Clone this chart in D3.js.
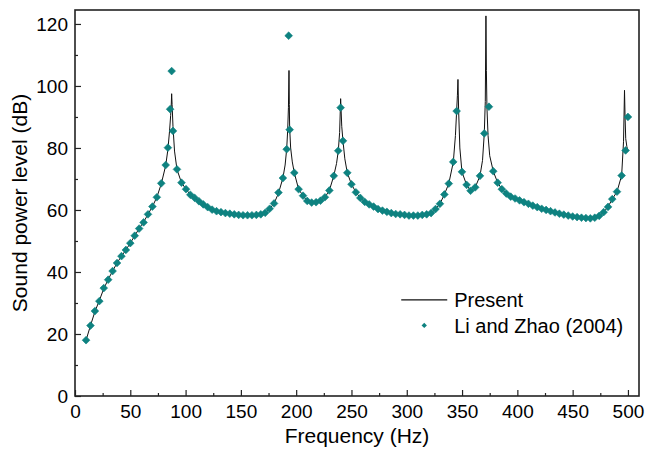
<!DOCTYPE html>
<html>
<head>
<meta charset="utf-8">
<script src="https://cdn.jsdelivr.net/npm/d3@7"></script>
<style>
  body { margin: 0; background: #fff; }
  svg text { font-family: "Liberation Sans", Arial, sans-serif; fill: #000; }
</style>
</head>
<body>
<div id="chart"></div>
<script>
// Li and Zhao (2004) markers
const liFreq = [10, 14, 18, 22, 26, 30, 34, 38, 42, 46, 50, 54, 58, 62, 66, 70, 74, 78, 82, 84, 86, 87.4, 88.6,
  92.2, 96.3, 100.4, 104.3, 108.2, 112.1, 116, 120, 124, 128, 132, 136, 140, 144, 148, 152, 156, 160, 164,
  168, 172, 176, 180, 184, 188, 191.4, 193.2, 194.1, 198.3, 202.2, 206.2, 210, 214, 218, 222, 226, 230, 234,
  238, 240.2, 242.3, 246.2, 250, 254, 258, 262, 266, 270, 274, 278, 282, 286, 290, 294, 298, 302, 306, 310,
  314, 318, 322, 326, 330, 334, 338, 342, 345.1, 349.9, 354.1, 357.7, 361.9, 366.2, 370.1, 374.3, 378.2,
  382.2, 386, 390, 394, 398, 402, 406, 410, 414, 418, 422, 426, 430, 434, 438, 442, 446, 450, 454, 458,
  462, 466, 470, 474, 478, 482, 485.8, 490.1, 494.3, 497.9, 500];
const liLevel = [18.0, 22.7, 27.4, 30.6, 34.8, 37.5, 40.3, 42.9, 45.1, 47.1, 49.3, 51.7, 54.0, 56.0, 58.6, 61.1,
  64.1, 68.6, 74.5, 80.1, 92.5, 104.8, 85.5,
  73.1, 68.8, 66.7, 64.9, 63.9, 62.8, 61.8, 60.9, 60.1, 59.6, 59.3, 59.0, 58.8, 58.6, 58.4, 58.3, 58.3, 58.3, 58.4,
  58.6, 59.1, 60.4, 62.1, 65.6, 70.3, 79.6, 116.2, 85.9, 72.0, 66.7, 64.6, 62.9, 62.4, 62.5, 63.0, 64.1, 66.3, 71.0,
  79.1, 93.0, 82.3, 72.0, 68.3, 65.7, 63.9, 62.6, 61.8, 61.1, 60.3, 59.8, 59.4, 59.0, 58.7, 58.6, 58.4, 58.2, 58.2, 58.2,
  58.4, 58.6, 59.0, 60.3, 62.0, 65.0, 68.5, 75.5, 91.9, 72.3, 68.1, 66.2, 67.3, 71.0, 84.7, 93.3, 72.5,
  68.8, 66.7, 65.3, 64.3, 63.7, 63.1, 62.5, 62.0, 61.4, 60.9, 60.4, 60.0, 59.6, 59.2, 58.8, 58.5, 58.2, 57.9, 57.7, 57.5,
  57.4, 57.3, 57.5, 58.1, 59.3, 61.0, 63.5, 65.9, 71.1, 79.2, 90.0];

// Present results (line)
const presentFreq = [10, 14, 18, 22, 26, 30, 34, 38, 42, 46, 50, 54, 58, 62, 66, 70, 74, 78, 82, 84, 85.5, 86.5,
  87.1, 87.4, 87.8, 88.6, 90, 92.2, 96.3, 100.4, 104.3, 108.2, 112.1, 116, 120, 124, 128, 132, 136, 140, 144,
  148, 152, 156, 160, 164, 168, 172, 176, 180, 184, 188, 190, 191.4, 192.3, 193, 193.5, 193.8, 194.1, 195,
  196.5, 198.3, 202.2, 206.2, 210, 214, 218, 222, 226, 230, 234, 236.5, 238.1, 239.3, 240.2, 241.2, 242.3,
  244, 246.2, 250, 254, 258, 262, 266, 270, 274, 278, 282, 286, 290, 294, 298, 302, 306, 310, 314, 318, 322,
  326, 330, 334, 338, 342.1, 344, 345.1, 345.8, 346.3, 346.9, 348, 349.9, 354.1, 357.7, 361.9, 366.2, 368.5,
  370.1, 371, 371.6, 372, 372.5, 373.5, 375, 378.2, 382.2, 386, 390, 394, 398, 402, 406, 410, 414, 418, 422,
  426, 430, 434, 438, 442, 446, 450, 454, 458, 462, 466, 470, 474, 478, 482, 485.8, 490.1, 494.3, 496, 496.9,
  497.4, 498, 499, 500];
const presentLevel = [18.0, 22.7, 27.2, 30.8, 34.6, 37.6, 40.3, 42.9, 45.1, 47.1, 49.3, 51.7, 54.0, 56.1, 58.6, 61.1,
  64.1, 68.4, 74.3, 79.5, 85.5, 90.5, 94.5, 97.5, 94.0, 87.0, 79.0, 73.1, 68.8, 66.7, 64.9, 63.9, 62.8, 61.8, 60.9,
  60.1, 59.6, 59.3, 59.0, 58.8, 58.6, 58.4, 58.3, 58.3, 58.3, 58.4, 58.6, 59.1, 60.4, 62.1, 65.4, 70.3, 74.5, 79.6,
  85.5, 93.0, 105.0, 94.0, 86.5, 80.0, 75.5, 72.0, 66.7, 64.6, 62.9, 62.4, 62.5, 63.0, 64.1, 66.3, 71.0, 75.0, 79.1,
  85.0, 95.9, 87.0, 82.3, 76.5, 72.0, 68.3, 65.7, 63.9, 62.6, 61.8, 61.1, 60.3, 59.8, 59.4, 59.0, 58.7, 58.6, 58.4,
  58.2, 58.2, 58.2, 58.4, 58.6, 59.0, 60.3, 62.0, 65.0, 68.5, 75.5, 84.0, 91.9, 97.0, 102.1, 92.0, 80.0, 72.3, 68.1,
  66.2, 67.3, 71.0, 76.0, 84.7, 95.0, 122.6, 105.0, 93.0, 84.0, 77.5, 72.5, 68.8, 66.7, 65.3, 64.3, 63.7, 63.1,
  62.5, 62.0, 61.4, 60.9, 60.4, 60.0, 59.6, 59.2, 58.8, 58.5, 58.2, 57.9, 57.7, 57.5, 57.4, 57.3, 57.5, 58.1, 59.3,
  61.0, 63.5, 65.9, 71.1, 82.0, 98.6, 90.0, 83.0, 80.5, 79.0];

const xMajor = [0, 50, 100, 150, 200, 250, 300, 350, 400, 450, 500];
const xMinor = [25, 75, 125, 175, 225, 275, 325, 375, 425, 475];
const yMajor = [0, 20, 40, 60, 80, 100, 120];
const yMinor = [10, 30, 50, 70, 90, 110];

const W = 656, H = 452;
const margin = { top: 10, right: 17, bottom: 56, left: 75 };
const width = W - margin.left - margin.right;
const height = H - margin.top - margin.bottom;

const svg = d3.select('#chart').append('svg')
  .attr('width', W)
  .attr('height', H);

const g = svg.append('g')
  .attr('transform', `translate(${margin.left},${margin.top})`);

const x = d3.scaleLinear().domain([0, 510]).range([0, width]);
const y = d3.scaleLinear().domain([0, 124.5]).range([height, 0]);

// Line
const lineData = presentFreq.map((f, i) => [f, presentLevel[i]]);
g.append('path')
  .datum(lineData)
  .attr('fill', 'none')
  .attr('stroke', '#111')
  .attr('stroke-width', 1)
  .attr('d', d3.line().x(d => x(d[0])).y(d => y(d[1])));

// Markers
const symbol = d3.symbol().type(d3.symbolDiamond2).size(38);
g.selectAll('.mk')
  .data(liFreq.map((f, i) => [f, liLevel[i]]))
  .enter()
  .append('path')
  .attr('class', 'mk')
  .attr('transform', d => `translate(${x(d[0])},${y(d[1])})`)
  .attr('d', symbol)
  .attr('fill', '#0e8280')
  .attr('stroke', '#0e8280')
  .attr('stroke-width', 0.6)
  .attr('stroke-linejoin', 'round');

// Axes (ticks inside)
const fontPx = '19px';
const xAxis = g.append('g')
  .attr('transform', `translate(0,${height})`)
  .call(d3.axisBottom(x).tickValues(xMajor).tickSizeInner(-6).tickSizeOuter(0).tickPadding(9));
g.append('g')
  .attr('transform', `translate(0,${height})`)
  .call(d3.axisBottom(x).tickValues(xMinor).tickSizeInner(-3).tickSizeOuter(0).tickFormat(''));
const yAxis = g.append('g')
  .call(d3.axisLeft(y).tickValues(yMajor).tickSizeInner(-6).tickSizeOuter(0).tickPadding(7));
g.append('g')
  .call(d3.axisLeft(y).tickValues(yMinor).tickSizeInner(-3).tickSizeOuter(0).tickFormat(''));

g.selectAll('.domain').remove();
g.selectAll('.tick line').attr('stroke', '#222').attr('stroke-width', 1.2);
xAxis.selectAll('text').style('font-size', fontPx);
yAxis.selectAll('text').style('font-size', fontPx);

// Frame
g.append('rect')
  .attr('x', 0).attr('y', 0)
  .attr('width', width).attr('height', height)
  .attr('fill', 'none')
  .attr('stroke', '#222')
  .attr('stroke-width', 1.6);

// Axis titles
svg.append('text')
  .attr('x', margin.left + width / 2)
  .attr('y', H - 9)
  .attr('text-anchor', 'middle')
  .style('font-size', '21px')
  .text('Frequency (Hz)');

svg.append('text')
  .attr('transform', `translate(27,${margin.top + height / 2}) rotate(-90)`)
  .attr('text-anchor', 'middle')
  .style('font-size', '21px')
  .text('Sound power level (dB)');

// Legend
const legend = g.append('g')
  .attr('transform', `translate(${x(295)},${y(31)})`);
legend.append('line')
  .attr('x1', 0).attr('x2', 46)
  .attr('y1', 0).attr('y2', 0)
  .attr('stroke', '#111').attr('stroke-width', 1.1);
legend.append('text')
  .attr('x', 53).attr('y', 7)
  .style('font-size', '20px')
  .text('Present');
legend.append('path')
  .attr('transform', 'translate(23,25.5)')
  .attr('d', d3.symbol().type(d3.symbolDiamond2).size(18))
  .attr('fill', '#0e8280');
legend.append('text')
  .attr('x', 53).attr('y', 33)
  .style('font-size', '20px')
  .text('Li and Zhao (2004)');
</script>
</body>
</html>
